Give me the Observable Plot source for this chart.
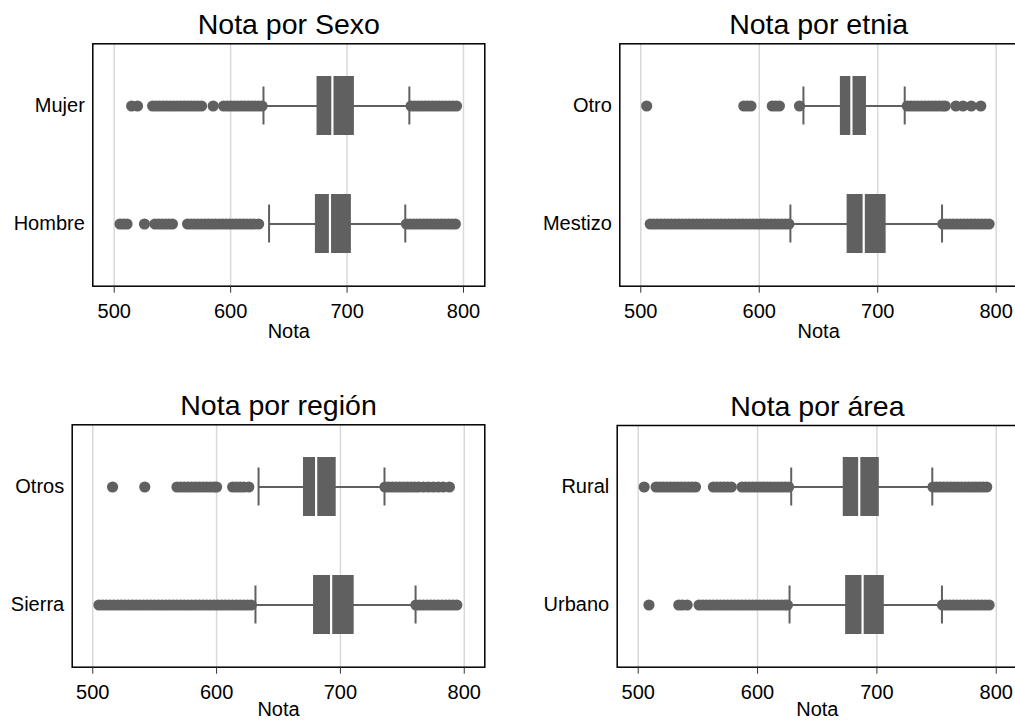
<!DOCTYPE html>
<html>
<head>
<meta charset="utf-8">
<script src="https://cdn.jsdelivr.net/npm/d3@7"></script>
<script src="https://cdn.jsdelivr.net/npm/@observablehq/plot@0.6"></script>
<style>
  html, body { margin: 0; padding: 0; background: #fff; overflow: hidden; }
  #wrap { position: relative; width: 1015px; height: 720px; overflow: hidden; background: #fff; }
  #wrap svg { position: absolute; }
</style>
</head>
<body>
<div id="wrap"></div>
<script>
// ---------- DATA ----------
const xTicks = [500, 600, 700, 800];
const axisTitle = "Nota";

// Panel 1: Sexo
const sexoTitle = "Nota por Sexo";
const sexoCats = ["Mujer", "Hombre"];
const sexoQ1 = [674.2, 672.8];
const sexoMed = [687.4, 685.3];
const sexoQ3 = [706.3, 703.7];
const sexoLo = [628.2, 633.0];
const sexoHi = [753.5, 750.0];
const sexoOutMujer = [515, 520, 533, 536, 539, 542, 545, 548, 551, 554, 557, 560, 563, 566, 569, 572, 575, 585, 594, 597, 600, 603, 606, 609, 612, 615, 618, 621, 624, 627,
  755, 758, 761, 764, 767, 770, 773, 776, 779, 782, 785, 788, 791, 794];
const sexoOutHombre = [505, 508, 511, 526, 535, 538, 541, 544, 547, 550, 563, 566, 569, 572, 575, 578, 581, 584, 587, 590, 593, 596, 599, 602, 605, 608, 611, 614, 617, 620, 624,
  751, 754, 757, 760, 763, 766, 769, 772, 775, 778, 781, 784, 787, 790, 793];

// Panel 2: Etnia
const etniaTitle = "Nota por etnia";
const etniaCats = ["Otro", "Mestizo"];
const etniaQ1 = [668.5, 674.2];
const etniaMed = [677.8, 688.2];
const etniaQ3 = [690.5, 707.1];
const etniaLo = [637.3, 626.3];
const etniaHi = [722.8, 754.3];
const etniaOutOtro = [505, 587, 590, 593, 611, 614, 617, 634,
  725, 728, 731, 734, 737, 740, 743, 746, 749, 752, 755, 757, 766, 772, 779, 787];
const etniaOutMestizo = [508, 511, 514, 517, 520, 523, 526, 529, 532, 535, 538, 541, 544, 547, 550, 553, 556, 559, 562, 565, 568, 571, 574, 577, 580, 583, 586, 589, 592, 595, 598, 601, 604, 607, 610, 613, 616, 619, 622, 625,
  755, 758, 761, 764, 767, 770, 773, 776, 779, 782, 785, 788, 791, 794];

// Panel 3: Región
const regionTitle = "Nota por región";
const regionCats = ["Otros", "Sierra"];
const regionQ1 = [670.2, 678.3];
const regionMed = [680.4, 692.5];
const regionQ3 = [696.6, 711.1];
const regionLo = [633.9, 631.4];
const regionHi = [735.6, 760.7];
const regionOutOtros = [516, 542, 568, 571, 574, 577, 580, 583, 586, 589, 592, 595, 598, 600, 613, 616, 619, 622, 626,
  736, 739, 742, 745, 748, 751, 754, 757, 760, 763, 767, 771, 775, 779, 783, 788];
const regionOutSierra = [505, 508, 511, 514, 517, 520, 523, 526, 529, 532, 535, 538, 541, 544, 547, 550, 553, 556, 559, 562, 565, 568, 571, 574, 577, 580, 583, 586, 589, 592, 595, 598, 601, 604, 607, 610, 613, 616, 619, 622, 625, 628,
  761, 764, 767, 770, 773, 776, 779, 782, 785, 788, 791, 794];

// Panel 4: Área
const areaTitle = "Nota por área";
const areaCats = ["Rural", "Urbano"];
const areaQ1 = [671.8, 673.8];
const areaMed = [685.2, 688.0];
const areaQ3 = [702.0, 706.2];
const areaLo = [628.2, 626.8];
const areaHi = [746.4, 754.5];
const areaOutRural = [505, 515, 518, 521, 524, 527, 530, 533, 536, 539, 542, 545, 548, 563, 566, 569, 572, 575, 578, 587, 590, 593, 596, 599, 602, 605, 608, 611, 614, 617, 620, 623, 626,
  747, 750, 753, 756, 759, 762, 765, 768, 771, 774, 777, 780, 783, 786, 789, 792];
const areaOutUrbano = [509, 534, 537, 541, 551, 554, 557, 560, 563, 566, 569, 572, 575, 578, 581, 584, 587, 590, 593, 596, 599, 602, 605, 608, 611, 614, 617, 620, 623, 625,
  755, 758, 761, 764, 767, 770, 773, 776, 779, 782, 785, 788, 791, 794];

// ---------- STYLE ----------
const GRAY = "#606060";
const FONT = "'Liberation Sans', Arial, Helvetica, sans-serif";

function buildStats(cats, q1, med, q3, lo, hi) {
  return cats.map((c, i) => ({cat: c, q1: q1[i], med: med[i], q3: q3[i], lo: lo[i], hi: hi[i]}));
}
function buildOut(cats, lists) {
  const out = [];
  cats.forEach((c, i) => lists[i].forEach(v => out.push({cat: c, v})));
  return out;
}

const panels = [
  {title: sexoTitle, cats: sexoCats, stats: buildStats(sexoCats, sexoQ1, sexoMed, sexoQ3, sexoLo, sexoHi),
   out: buildOut(sexoCats, [sexoOutMujer, sexoOutHombre]),
   left: 0, top: 0, width: 500, height: 345, mL: 92.3, mR: 15.7, mT: 43.3, mB: 59.3, domain: [481.6, 818.3], labelDy: 45},
  {title: etniaTitle, cats: etniaCats, stats: buildStats(etniaCats, etniaQ1, etniaMed, etniaQ3, etniaLo, etniaHi),
   out: buildOut(etniaCats, [etniaOutOtro, etniaOutMestizo]),
   left: 500, top: 0, width: 520, height: 345, mL: 119.3, mR: 3, mT: 43.3, mB: 59.3, domain: [482.3, 818.0], labelDy: 45},
  {title: regionTitle, cats: regionCats, stats: buildStats(regionCats, regionQ1, regionMed, regionQ3, regionLo, regionHi),
   out: buildOut(regionCats, [regionOutOtros, regionOutSierra]),
   left: 0, top: 380, width: 500, height: 345, mL: 71.7, mR: 15.7, mT: 44.3, mB: 58.3, domain: [483.4, 816.6], labelDy: 42.5},
  {title: areaTitle, cats: areaCats, stats: buildStats(areaCats, areaQ1, areaMed, areaQ3, areaLo, areaHi),
   out: buildOut(areaCats, [areaOutRural, areaOutUrbano]),
   left: 500, top: 380, width: 520, height: 345, mL: 116.7, mR: 3, mT: 45, mB: 58.3, domain: [482.4, 817.8], labelDy: 42.5}
];

const wrap = document.getElementById("wrap");

for (const p of panels) {
  const chart = Plot.plot({
    width: p.width,
    height: p.height,
    marginLeft: p.mL,
    marginRight: p.mR,
    marginTop: p.mT,
    marginBottom: p.mB,
    style: {fontFamily: FONT, background: "transparent", color: "black", overflow: "visible"},
    x: {domain: p.domain, axis: null},
    y: {type: "band", domain: p.cats, paddingInner: 0.5, paddingOuter: 0.27, axis: null},
    marks: [
      Plot.ruleX(xTicks, {stroke: "#d9d9d9", strokeWidth: 1.5}),
      Plot.ruleY(p.stats, {y: "cat", x1: "lo", x2: "hi", stroke: GRAY, strokeWidth: 2}),
      Plot.tickX(p.stats, {y: "cat", x: "lo", stroke: GRAY, strokeWidth: 2, insetTop: 10.5, insetBottom: 10.5}),
      Plot.tickX(p.stats, {y: "cat", x: "hi", stroke: GRAY, strokeWidth: 2, insetTop: 10.5, insetBottom: 10.5}),
      Plot.dot(p.out, {x: "v", y: "cat", r: 5.6, fill: GRAY, stroke: "none"}),
      Plot.barX(p.stats, {y: "cat", x1: "q1", x2: "q3", fill: GRAY}),
      Plot.tickX(p.stats, {y: "cat", x: "med", stroke: "white", strokeWidth: 2.2}),
      Plot.frame({stroke: "black", strokeWidth: 1.5}),
      Plot.axisX(xTicks, {tickSize: 7, tickPadding: 11, fontSize: 20, label: null, stroke: "#333"}),
      Plot.axisY({tickSize: 0, tickPadding: 8, fontSize: 20, label: null}),
      Plot.text([p.title], {text: d => d, frameAnchor: "top", lineAnchor: "middle", dy: -18.6, fontSize: 28.5, fill: "black"}),
      Plot.text([axisTitle], {text: d => d, frameAnchor: "bottom", lineAnchor: "middle", dy: p.labelDy, fontSize: 20, fill: "black"})
    ]
  });
  chart.style.left = p.left + "px";
  chart.style.top = p.top + "px";
  wrap.appendChild(chart);
}
</script>
</body>
</html>
